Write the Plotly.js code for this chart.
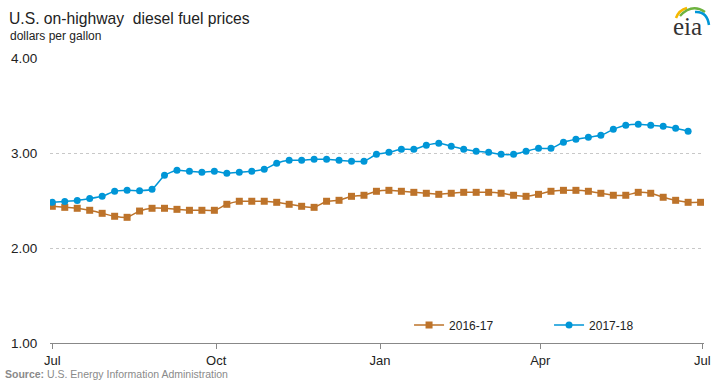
<!DOCTYPE html>
<html><head><meta charset="utf-8">
<script src="https://cdn.plot.ly/plotly-3.0.1.min.js"></script>
<style>html,body{margin:0;padding:0;background:#fff}#chart{width:719px;height:384px}</style>
</head><body><div id="chart"></div>
<script>
// Week-of-season dates (shared axis, July to June)
const weeks = [
  '2017-07-01','2017-07-08','2017-07-15','2017-07-22','2017-07-29',
  '2017-08-05','2017-08-12','2017-08-19','2017-08-26',
  '2017-09-02','2017-09-09','2017-09-16','2017-09-23','2017-09-30',
  '2017-10-07','2017-10-14','2017-10-21','2017-10-28',
  '2017-11-04','2017-11-11','2017-11-18','2017-11-25',
  '2017-12-02','2017-12-09','2017-12-16','2017-12-23','2017-12-30',
  '2018-01-06','2018-01-13','2018-01-20','2018-01-27',
  '2018-02-03','2018-02-10','2018-02-17','2018-02-24',
  '2018-03-03','2018-03-10','2018-03-17','2018-03-24','2018-03-31',
  '2018-04-07','2018-04-14','2018-04-21','2018-04-28',
  '2018-05-05','2018-05-12','2018-05-19','2018-05-26',
  '2018-06-02','2018-06-09','2018-06-16','2018-06-23','2018-06-30'
];

// 2016-17 season (53 weeks)
const prices2016_17 = [
  2.439,2.428,2.418,2.397,2.365,2.334,2.323,2.389,2.418,2.418,2.407,2.397,2.397,2.397,
  2.460,2.492,2.492,2.492,2.481,2.460,2.439,2.428,2.492,2.502,2.544,2.555,2.597,
  2.607,2.597,2.586,2.576,2.565,2.576,2.586,2.586,2.586,2.576,2.555,2.544,2.565,
  2.597,2.607,2.607,2.597,2.576,2.555,2.555,2.586,2.576,2.534,2.502,2.481,2.481
];

// 2017-18 season (52 weeks)
const prices2017_18 = [
  2.481,2.490,2.500,2.520,2.544,2.597,2.607,2.603,2.618,2.765,2.818,2.807,2.797,2.807,
  2.786,2.797,2.807,2.828,2.892,2.923,2.923,2.934,2.934,2.923,2.913,2.913,2.986,
  3.007,3.039,3.039,3.081,3.102,3.071,3.039,3.018,3.007,2.986,2.986,3.018,3.049,
  3.049,3.113,3.144,3.165,3.186,3.249,3.292,3.302,3.292,3.281,3.260,3.228
];

const seriesNames = ['2016-17','2017-18'];
const xTickVals = ['2017-07-01','2017-10-01','2018-01-01','2018-04-01','2018-07-01'];
const xTickText = ['Jul','Oct','Jan','Apr','Jul'];
const yTickVals = [1,2,3,4];

const FONT = 'Liberation Sans, Arial, sans-serif';
const ORANGE = '#BD732A';
const BLUE = '#0096D7';

const traces = [
  {
    x: weeks.slice(0, prices2016_17.length), y: prices2016_17, name: seriesNames[0],
    type: 'scatter', mode: 'lines+markers',
    line: {color: ORANGE, width: 1.5, shape: 'spline', smoothing: 0.5},
    marker: {color: ORANGE, symbol: 'square', size: 7},
    hoverinfo: 'skip'
  },
  {
    x: weeks.slice(0, prices2017_18.length), y: prices2017_18, name: seriesNames[1],
    type: 'scatter', mode: 'lines+markers',
    line: {color: BLUE, width: 1.5, shape: 'spline', smoothing: 0.5},
    marker: {color: BLUE, symbol: 'circle', size: 7},
    hoverinfo: 'skip'
  }
];

const layout = {
  width: 719, height: 384,
  margin: {l: 50, r: 15, t: 58, b: 41},
  paper_bgcolor: '#fff', plot_bgcolor: '#fff',
  font: {family: FONT, size: 12, color: '#333'},
  showlegend: true,
  title: {
    text: 'U.S. on-highway  diesel fuel prices',
    font: {family: FONT, size: 15.7, color: '#222'},
    xref: 'container', x: 0.0125, xanchor: 'left',
    yref: 'container', y: 0.953, yanchor: 'middle'
  },
  xaxis: {
    type: 'date',
    range: ['2017-06-29 17:00', '2018-07-01 22:00'],
    tickmode: 'array', tickvals: xTickVals, ticktext: xTickText,
    ticks: 'outside', ticklen: 5, tickcolor: '#888', tickwidth: 1,
    showline: true, linecolor: '#888', linewidth: 1,
    showgrid: false, zeroline: false,
    tickfont: {family: FONT, size: 13, color: '#222'}
  },
  yaxis: {
    range: [1, 4],
    tickmode: 'array', tickvals: yTickVals, tickformat: '.2f',
    ticks: 'outside', ticklen: 9, tickcolor: 'rgba(0,0,0,0)',
    showgrid: true, gridcolor: '#c8c8c8', griddash: 'dot', gridwidth: 1,
    showline: false, zeroline: false,
    tickfont: {family: FONT, size: 13.5, color: '#222'}
  },
  legend: {
    orientation: 'h', x: 0.549, xanchor: 'left', y: 0.063, yanchor: 'middle',
    bgcolor: 'rgba(0,0,0,0)', entrywidth: 95, entrywidthmode: 'pixels',
    itemwidth: 30, font: {family: FONT, size: 12, color: '#222'}
  },
  annotations: [
    {text: 'dollars per gallon', xref: 'paper', yref: 'paper', x: -0.0642, y: 1.077,
     xanchor: 'left', yanchor: 'middle', showarrow: false,
     font: {family: FONT, size: 12, color: '#222'}},
    {text: '<b>Source:</b> U.S. Energy Information Administration', xref: 'paper', yref: 'paper',
     x: -0.0719, y: -0.1088, xanchor: 'left', yanchor: 'middle', showarrow: false,
     font: {family: FONT, size: 10.5, color: '#8a8a8a'}},
    {text: 'eia', xref: 'paper', yref: 'paper', x: 0.9755, y: 1.112,
     xanchor: 'center', yanchor: 'middle', showarrow: false,
     font: {family: 'Liberation Serif, DejaVu Serif, serif', size: 25, color: '#333'}}
  ],
  shapes: [
    {type: 'path', xref: 'paper', yref: 'paper', xsizemode: 'pixel', ysizemode: 'pixel',
     xanchor: 1, yanchor: 1, path: 'M -28 40 Q -25 48 -17 50',
     line: {color: '#F5B800', width: 2.5}},
    {type: 'path', xref: 'paper', yref: 'paper', xsizemode: 'pixel', ysizemode: 'pixel',
     xanchor: 1, yanchor: 1, path: 'M -24 42 Q -12 55 1 46',
     line: {color: '#6DB33F', width: 2.5}},
    {type: 'path', xref: 'paper', yref: 'paper', xsizemode: 'pixel', ysizemode: 'pixel',
     xanchor: 1, yanchor: 1, path: 'M -9 46 Q 3 47 5 33',
     line: {color: BLUE, width: 2.5}}
  ]
};

Plotly.newPlot('chart', traces, layout, {displayModeBar: false, staticPlot: true});
</script>
</body></html>
